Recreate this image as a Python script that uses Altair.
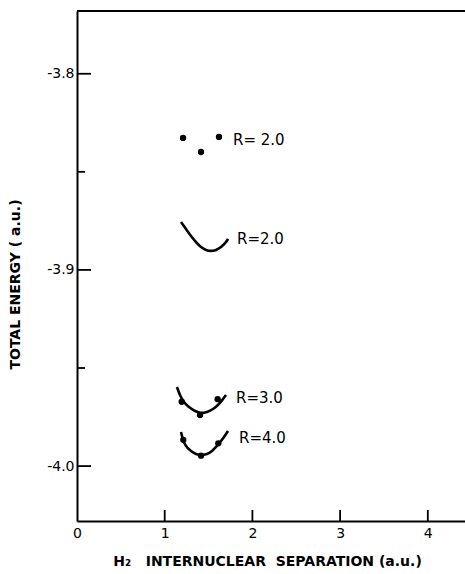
import altair as alt
import pandas as pd

# ---- data ----
# theoretical curves (three separations R)
curve_r2_x = [1.186, 1.243, 1.300, 1.357, 1.414, 1.471, 1.528, 1.585, 1.642, 1.699, 1.722]
curve_r2_y = [-3.8756, -3.8792, -3.8827, -3.8858, -3.8883, -3.8898, -3.8903, -3.8898, -3.8883, -3.8858, -3.8842]
curve_r3_x = [1.140, 1.174, 1.220, 1.277, 1.346, 1.414, 1.482, 1.551, 1.619, 1.665, 1.699]
curve_r3_y = [-3.9597, -3.9638, -3.9673, -3.9699, -3.9719, -3.9729, -3.9724, -3.9709, -3.9683, -3.9658, -3.9638]
curve_r4_x = [1.186, 1.209, 1.243, 1.300, 1.357, 1.414, 1.482, 1.539, 1.596, 1.653, 1.722]
curve_r4_y = [-3.9826, -3.9866, -3.9897, -3.9923, -3.9938, -3.9943, -3.9938, -3.9923, -3.9897, -3.9866, -3.9821]

# computed points
dots_r2_x = [1.209, 1.414, 1.619]
dots_r2_y = [-3.8327, -3.8399, -3.8322]
dots_r3_x = [1.194, 1.403, 1.604]
dots_r3_y = [-3.9672, -3.9740, -3.9659]
dots_r4_x = [1.212, 1.414, 1.611]
dots_r4_y = [-3.9866, -3.9947, -3.9884]

# labels
label_text = ["R= 2.0", "R=2.0", "R=3.0", "R=4.0"]
label_x = [1.779, 1.824, 1.813, 1.847]
label_y = [-3.8338, -3.8843, -3.9653, -3.9857]

# axis ticks
x_ticks = [1, 2, 3, 4]
x_labels = [0, 1, 2, 3, 4]
y_major = [-3.8, -3.9, -4.0]
y_minor = [-3.85, -3.95]

X_DOMAIN = [0, 4.424]
Y_DOMAIN = [-4.028, -3.768]

curves = pd.DataFrame({
    "x": curve_r2_x + curve_r3_x + curve_r4_x,
    "y": curve_r2_y + curve_r3_y + curve_r4_y,
    "series": ["R2"] * len(curve_r2_x) + ["R3"] * len(curve_r3_x) + ["R4"] * len(curve_r4_x),
    "order": list(range(len(curve_r2_x))) + list(range(len(curve_r3_x))) + list(range(len(curve_r4_x))),
})
dots = pd.DataFrame({
    "x": dots_r2_x + dots_r3_x + dots_r4_x,
    "y": dots_r2_y + dots_r3_y + dots_r4_y,
})
labels = pd.DataFrame({"x": label_x, "y": label_y, "text": label_text})
yt_major = pd.DataFrame({"y": y_major})
yt_minor = pd.DataFrame({"y": y_minor})
xt = pd.DataFrame({"x": x_ticks})

FONT = "DejaVu Sans"
NB = "\u00a0"

x_axis = alt.Axis(
    values=x_labels, format="d", ticks=False, labelPadding=5, labelFlush=False,
    labelFont=FONT, labelFontSize=14, labelColor="black",
    domainColor="black", domainWidth=2, grid=False,
    title="H\u2082" + NB * 3 + "INTERNUCLEAR" + NB * 2 + "SEPARATION (a.u.)",
    titleFont=FONT, titleFontSize=14, titleFontWeight="bold", titleColor="black",
    titleX=190, titleY=40, titleBaseline="middle", titleAlign="center",
)
y_axis = alt.Axis(
    values=y_major, format=".1f", ticks=False, labelPadding=3,
    labelExpr="replace(datum.label, '\u2212', '-')",
    labelFont=FONT, labelFontSize=14, labelColor="black",
    domainColor="black", domainWidth=2, grid=False,
    title="TOTAL ENERGY ( a.u.)",
    titleFont=FONT, titleFontSize=14, titleFontWeight="bold", titleColor="black",
    titleX=-62, titleY=273, titleBaseline="middle", titleAlign="center", titleAngle=270,
)

xs = alt.Scale(domain=X_DOMAIN, nice=False, zero=False)
ys = alt.Scale(domain=Y_DOMAIN, nice=False, zero=False)

base_x = alt.X("x:Q", scale=xs, axis=x_axis)
base_y = alt.Y("y:Q", scale=ys, axis=y_axis)

curve_layer = alt.Chart(curves).mark_line(color="black", strokeWidth=2.6, interpolate="monotone").encode(
    x=base_x, y=base_y, detail="series:N", order="order:Q"
)
dot_layer = alt.Chart(dots).mark_point(filled=True, color="black", opacity=1, size=40).encode(
    x=base_x, y=base_y
)
label_layer = alt.Chart(labels).mark_text(
    align="left", baseline="middle", font=FONT, fontSize=15, color="black"
).encode(x=base_x, y=base_y, text="text:N")

ymaj_layer = alt.Chart(yt_major).mark_rule(color="black", strokeWidth=1.8).encode(
    y=base_y, x=alt.value(0), x2=alt.value(14)
)
ymin_layer = alt.Chart(yt_minor).mark_rule(color="black", strokeWidth=1.8).encode(
    y=base_y, x=alt.value(0), x2=alt.value(8)
)
xt_layer = alt.Chart(xt).mark_rule(color="black", strokeWidth=1.8).encode(
    x=base_x, y=alt.value(510), y2=alt.value(499)
)
top_line = alt.Chart(xt).mark_rule(color="black", strokeWidth=2).encode(
    x=alt.value(0), x2=alt.value(388), y=alt.value(0)
)

chart = alt.layer(
    curve_layer, dot_layer, label_layer, ymaj_layer, ymin_layer, xt_layer, top_line
).properties(
    width=388, height=510,
    autosize=alt.AutoSizeParams(type="none"),
    padding={"left": 77, "top": 11, "right": 0, "bottom": 53},
    background="white",
).configure_view(stroke=None)

chart.save("out.html", embed_options={"renderer": "svg", "actions": False})
